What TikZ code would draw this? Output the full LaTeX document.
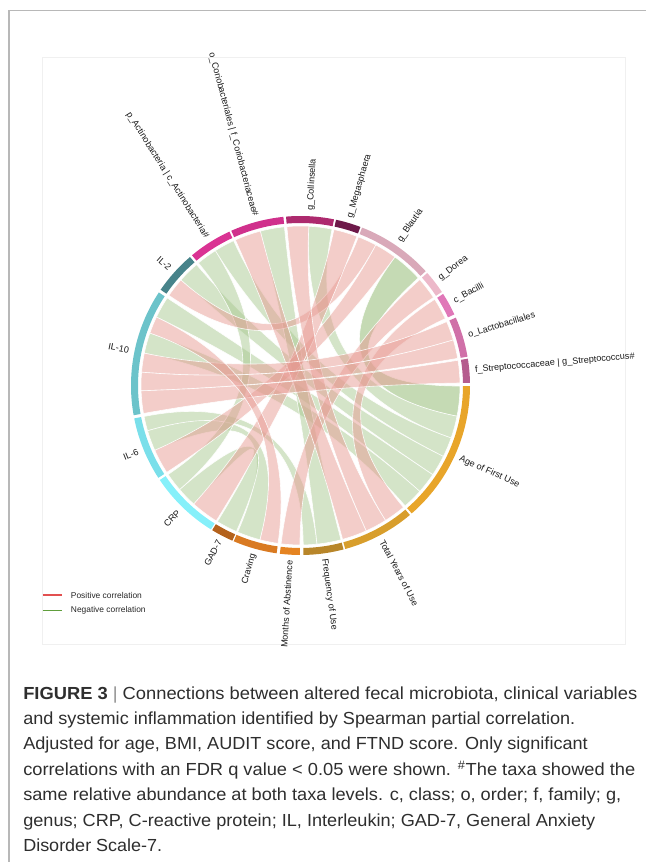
\documentclass[tikz,border=0pt]{standalone}
\usepackage{fontspec}
\setmainfont{Liberation Sans}
\usepackage{graphicx}
\newlength\pxu \setlength\pxu{0.75pt}
\definecolor{cCol}{HTML}{AD2A6E}
\definecolor{cMeg}{HTML}{6E1A4A}
\definecolor{cBla}{HTML}{D9A9B9}
\definecolor{cDor}{HTML}{ECB8C9}
\definecolor{cBac}{HTML}{E077B8}
\definecolor{cLac}{HTML}{D070A8}
\definecolor{cStr}{HTML}{B55C8E}
\definecolor{cAge}{HTML}{E8A52A}
\definecolor{cTot}{HTML}{D89E2C}
\definecolor{cFre}{HTML}{B8862A}
\definecolor{cMon}{HTML}{E58422}
\definecolor{cCra}{HTML}{D97A22}
\definecolor{cGad}{HTML}{B4621C}
\definecolor{cCrp}{HTML}{86F0FA}
\definecolor{cIlsix}{HTML}{7ADFEA}
\definecolor{cIlten}{HTML}{6CC3CA}
\definecolor{cIltwo}{HTML}{47838A}
\definecolor{cAct}{HTML}{DA3393}
\definecolor{cCor}{HTML}{D0308C}
\definecolor{posc}{HTML}{E79B93}
\definecolor{negc}{HTML}{A9C991}
\definecolor{captxt}{HTML}{2E2E2E}
\def\RR{159.5}
\def\RC{53.17}
\newcommand\rib[5]{\path[#1] (#2:\RR) arc[start angle=#2,end angle=#3,radius=\RR]
  .. controls (#3:\RC) and (#4:\RC) .. (#4:\RR)
  arc[start angle=#4,end angle=#5,radius=\RR]
  .. controls (#5:\RC) and (#2:\RC) .. (#2:\RR) -- cycle;}
\newcommand\sect[3]{\fill[#1] (#2:162.5) arc[start angle=#2,end angle=#3,radius=162.5]
  -- (#3:169.5) arc[start angle=#3,end angle=#2,radius=169.5] -- cycle;}
\tikzset{
  poschord/.style={fill=posc, fill opacity=0.5, draw=white, draw opacity=0.9, line width=0.45pt},
  negchord/.style={fill=negc, fill opacity=0.5, draw=white, draw opacity=0.9, line width=0.45pt},
  strongneg/.style={fill=negc, fill opacity=0.68, draw=white, draw opacity=0.9, line width=0.45pt},
  seclabel/.style={font=\fontsize{6.8}{8}\selectfont, text=black!90, inner sep=0pt},
  legtext/.style={font=\fontsize{6.3}{7.5}\selectfont, text=black!85, inner sep=0pt, anchor=west},
  captext/.style={font=\fontsize{13.1}{15}\selectfont, text=captxt, inner sep=0pt, anchor=base west}
}
\begin{document}
\begin{tikzpicture}[x=0.75pt,y=0.75pt]
\useasboundingbox (-300.5,385.5) rectangle (345.5,-476.5);
% frame
\draw[black!28, line width=1.1pt] (-291.5,-476.5) -- (-291.5,375) -- (345.5,375);
\draw[black!6, line width=0.6pt] (-258.5,328.5) rectangle (325.2,-258.5);
% chords: negative (green)
\rib{strongneg}{53.7}{42.4}{-0.2}{-11.1}
\rib{negchord}{87.0}{78.6}{-11.1}{-19.2}
\rib{negchord}{122.3}{114.8}{-19.2}{-26.4}
\rib{negchord}{138.6}{130.7}{-26.4}{-34.0}
\rib{negchord}{154.6}{146.7}{-34.0}{-41.6}
\rib{negchord}{168.3}{160.8}{-41.6}{-49.0}
\rib{negchord}{104.6}{95.8}{-75.3}{-84.1}
\rib{negchord}{-163.5}{-168.8}{-84.1}{-89.0}
\rib{negchord}{-104.7}{-113.2}{-156.0}{-163.5}
\rib{negchord}{-113.7}{-121.4}{-132.0}{-139.3}
\rib{negchord}{129.8}{122.3}{-139.3}{-146.1}
% chords: positive (red)
\rib{poschord}{68.7}{61.8}{145.6}{138.6}
\rib{poschord}{61.8}{53.7}{-147.0}{-156.0}
\rib{poschord}{77.9}{69.3}{-121.9}{-132.0}
\rib{poschord}{41.6}{33.5}{-90.2}{-97.0}
\rib{poschord}{32.7}{24.8}{-49.8}{-57.8}
\rib{poschord}{94.9}{87.0}{-57.8}{-65.7}
\rib{poschord}{114.1}{104.6}{-65.7}{-74.7}
\rib{poschord}{23.6}{16.6}{175.2}{168.3}
\rib{poschord}{16.6}{9.8}{181.9}{175.2}
\rib{poschord}{9.1}{0.9}{190.1}{181.9}
\rib{poschord}{-98.1}{-104.7}{160.8}{154.6}
% sectors
\sect{cCol}{94.9}{78.6}
\sect{cMeg}{77.9}{69.3}
\sect{cBla}{68.7}{42.4}
\sect{cDor}{41.6}{33.5}
\sect{cBac}{32.7}{24.8}
\sect{cLac}{23.6}{9.8}
\sect{cStr}{9.1}{0.9}
\sect{cAge}{-0.2}{-49.0}
\sect{cTot}{-49.8}{-74.7}
\sect{cFre}{-75.3}{-89.0}
\sect{cMon}{-90.2}{-97.0}
\sect{cCra}{-98.1}{-113.2}
\sect{cGad}{-113.7}{-121.4}
\sect{cCrp}{-121.9}{-146.1}
\sect{cIlsix}{-147.0}{-168.8}
\sect{cIlten}{-169.9}{-213.3}
\sect{cIltwo}{-214.4}{-229.3}
\sect{cAct}{-230.2}{-245.2}
\sect{cCor}{-245.9}{-264.2}
% labels
\node[seclabel, anchor=west, rotate=86.75] (lCol) at (86.75:175) {g\_Collinsella};
\node[seclabel, anchor=west, rotate=73.6] (lMeg) at (73.6:175) {g\_Megasphaera};
\node[seclabel, anchor=west, rotate=55.55] (lBla) at (55.55:175) {g\_Blautia};
\node[seclabel, anchor=west, rotate=37.55] (lDor) at (37.55:175) {g\_Dorea};
\node[seclabel, anchor=west, rotate=28.75] (lBac) at (28.75:175) {c\_Bacilli};
\node[seclabel, anchor=west, rotate=16.7] (lLac) at (16.7:175) {o\_Lactobacillales};
\node[seclabel, anchor=west, rotate=5.0] (lStr) at (5.0:175) {f\_Streptococcaceae | g\_Streptococcus\#};
\node[seclabel, anchor=west, rotate=-24.6] (lAge) at (-24.6:175) {Age of First Use};
\node[seclabel, anchor=west, rotate=-62.25] (lTot) at (-62.25:175) {Total Years of Use};
\node[seclabel, anchor=west, rotate=-82.15] (lFre) at (-82.15:175) {Frequency of Use};
\node[seclabel, anchor=east, rotate=86.4] (lMon) at (-93.6:175) {Months of Abstinence};
\node[seclabel, anchor=east, rotate=74.35] (lCra) at (-105.65:175) {Craving};
\node[seclabel, anchor=east, rotate=62.45] (lGad) at (-117.55:175) {GAD-7};
\node[seclabel, anchor=east, rotate=46.0] (lCrp) at (-134.0:175) {CRP};
\node[seclabel, anchor=east, rotate=22.1] (lIlsix) at (-157.9:175) {IL-6};
\node[seclabel, anchor=east, rotate=-11.6] (lIlten) at (168.4:175) {IL-10};
\node[seclabel, anchor=east, rotate=-41.85] (lIltwo) at (138.15:175) {IL-2};
\node[seclabel, anchor=east, rotate=-57.7] (lAct) at (122.3:175) {p\_Actinobacteria | c\_Actinobacteria\#};
\node[seclabel, anchor=east, rotate=-75.0] (lCor) at (105.0:175) {o\_Coriobacteriales | f\_Coriobacteriaceae\#};
% legend
\coordinate (pa) at (-257.8,-209.5);
\coordinate (pb) at (-238.2,-209.5);
\coordinate (na) at (-257.8,-225);
\coordinate (nb) at (-238.2,-225);
\draw[color={rgb,255:red,226;green,80;blue,80}, line width=0.8pt] (pa) -- (pb);
\draw[color={rgb,255:red,96;green,158;blue,60}, line width=0.8pt] (na) -- (nb);
\node[legtext] (lpos) at (-229.8,-209.5) {Positive correlation};
\node[legtext] (lneg) at (-229.8,-225) {Negative correlation};
% caption
\node[captext] (c1) at (-277.5,-313.5) {\resizebox{614\pxu}{\height}{\textbf{FIGURE 3} {\color{black!45}|} Connections between altered fecal microbiota, clinical variables}};
\node[captext] (c2) at (-277.5,-338.9) {\resizebox{552\pxu}{\height}{and systemic inflammation identified by Spearman partial correlation.}};
\node[captext] (c3) at (-277.5,-364.3) {\resizebox{564.5\pxu}{\height}{Adjusted for age, BMI, AUDIT score, and FTND score. Only significant}};
\node[captext] (c4) at (-277.5,-389.7) {\resizebox{612\pxu}{\height}{correlations with an FDR q value < 0.05 were shown. \textsuperscript{\#}The taxa showed the}};
\node[captext] (c5) at (-277.5,-415.1) {\resizebox{598\pxu}{\height}{same relative abundance at both taxa levels. c, class; o, order; f, family; g,}};
\node[captext] (c6) at (-277.5,-440.5) {\resizebox{572\pxu}{\height}{genus; CRP, C-reactive protein; IL, Interleukin; GAD-7, General Anxiety}};
\node[captext] (c7) at (-277.5,-465.9) {\resizebox{139\pxu}{\height}{Disorder Scale-7.}};
\end{tikzpicture}
\end{document}
